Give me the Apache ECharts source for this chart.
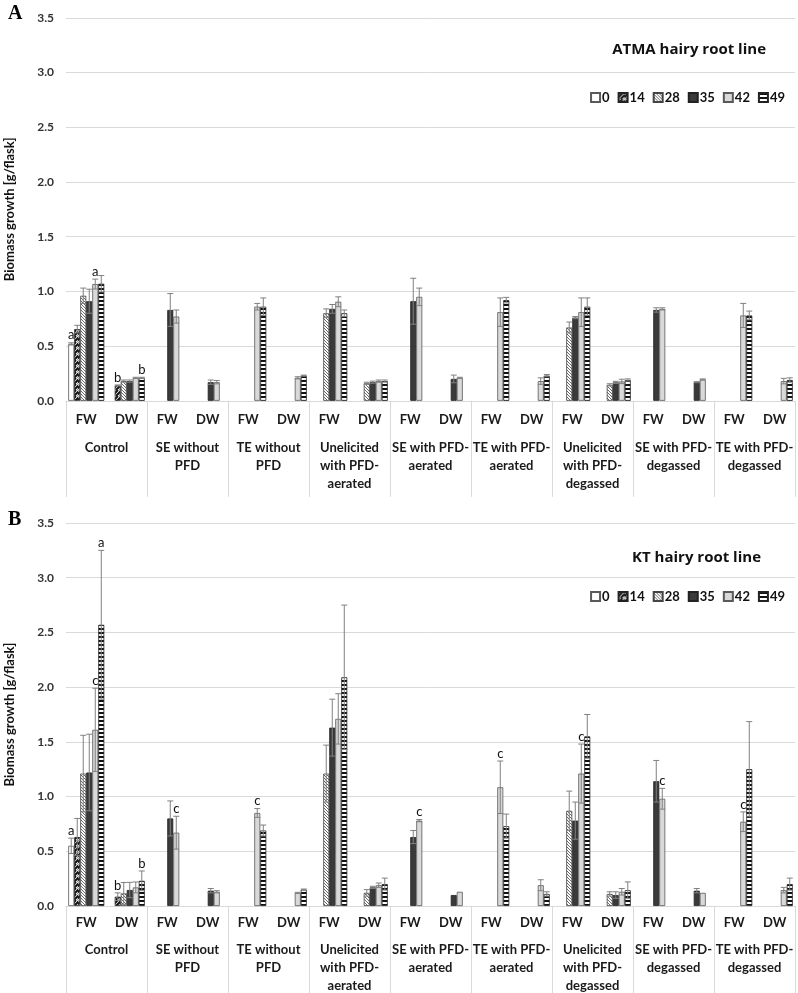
<!DOCTYPE html>
<html lang="en">
<head>
  <meta charset="UTF-8">
  <title>Biomass growth</title>
  <style type="text/css">
    html, body { margin: 0; padding: 0; background: #fff; }
    #chart { width: 798px; height: 993px; }
  </style>
</head>
<body>
  <div id="chart"></div>
  <script src="https://cdn.jsdelivr.net/npm/echarts@6/dist/echarts.min.js"></script>
  <script>
    // sub categories (FW / DW for each treatment) and treatment names
    const subCats = ['FW', 'DW', 'FW', 'DW', 'FW', 'DW', 'FW', 'DW', 'FW', 'DW', 'FW', 'DW', 'FW', 'DW', 'FW', 'DW', 'FW', 'DW']
    const groups = ['Control', 'SE without\nPFD', 'TE without\nPFD', 'Unelicited\nwith PFD-\naerated', 'SE with PFD-\naerated',
      'TE with PFD-\naerated', 'Unelicited\nwith PFD-\ndegassed', 'SE with PFD-\ndegassed', 'TE with PFD-\ndegassed']
    const days = ['0', '14', '28', '35', '42', '49']
    const yTicks = [0, 0.5, 1.0, 1.5, 2.0, 2.5, 3.0, 3.5]

    const _ = null
    // ATMA hairy root line (panel A)
    const atma0  = [0.52, _, _, _, _, _, _, _, _, _, _, _, _, _, _, _, _, _]
    const atma14 = [0.655, 0.14, _, _, _, _, _, _, _, _, _, _, _, _, _, _, _, _]
    const atma28 = [0.96, 0.18, _, _, _, _, 0.80, 0.16, _, _, _, _, 0.67, 0.146, _, _, _, _]
    const atma35 = [0.91, 0.18, 0.83, 0.17, _, _, 0.84, 0.17, 0.91, 0.20, _, _, 0.76, 0.168, 0.83, 0.17, _, _]
    const atma42 = [1.067, 0.21, 0.77, 0.17, 0.86, 0.21, 0.905, 0.18, 0.95, 0.21, 0.81, 0.18, 0.81, 0.177, 0.84, 0.195, 0.78, 0.18]
    const atma49 = [1.07, 0.21, _, _, 0.86, 0.23, 0.80, 0.18, _, _, 0.92, 0.23, 0.86, 0.19, _, _, 0.78, 0.19]

    const atmaErr0  = [0.01, _, _, _, _, _, _, _, _, _, _, _, _, _, _, _, _, _]
    const atmaErr14 = [0.035, 0.005, _, _, _, _, _, _, _, _, _, _, _, _, _, _, _, _]
    const atmaErr28 = [0.07, 0.01, _, _, _, _, 0.04, 0.01, _, _, _, _, 0.05, 0.01, _, _, _, _]
    const atmaErr35 = [0.11, 0.01, 0.15, 0.02, _, _, 0.04, 0.01, 0.21, 0.035, _, _, 0.01, 0.01, 0.02, 0.005, _, _]
    const atmaErr42 = [0.045, 0.005, 0.06, 0.015, 0.03, 0.01, 0.045, 0.01, 0.08, 0.005, 0.13, 0.03, 0.13, 0.02, 0.01, 0.005, 0.11, 0.025]
    const atmaErr49 = [0.075, 0.005, _, _, 0.08, 0.005, 0.03, 0.01, _, _, 0.025, 0.01, 0.08, 0.01, _, _, 0.04, 0.02]

    const atmaLetters = [
      { day: 0, cat: 0, text: 'a' }, { day: 4, cat: 0, text: 'a' },
      { day: 1, cat: 1, text: 'b' }, { day: 5, cat: 1, text: 'b' }
    ]

    // KT hairy root line (panel B)
    const kt0  = [0.55, _, _, _, _, _, _, _, _, _, _, _, _, _, _, _, _, _]
    const kt14 = [0.63, 0.085, _, _, _, _, _, _, _, _, _, _, _, _, _, _, _, _]
    const kt28 = [1.21, 0.115, _, _, _, _, 1.21, 0.12, _, _, _, _, 0.87, 0.11, _, _, _, _]
    const kt35 = [1.22, 0.146, 0.80, 0.14, _, _, 1.63, 0.17, 0.63, 0.10, _, _, 0.78, 0.10, 1.14, 0.14, _, _]
    const kt42 = [1.61, 0.17, 0.67, 0.13, 0.85, 0.12, 1.71, 0.19, 0.78, 0.13, 1.085, 0.19, 1.21, 0.13, 0.98, 0.12, 0.77, 0.145]
    const kt49 = [2.57, 0.23, _, _, 0.69, 0.15, 2.09, 0.20, _, _, 0.73, 0.11, 1.55, 0.145, _, _, 1.25, 0.20]

    const ktErr0  = [0.07, _, _, _, _, _, _, _, _, _, _, _, _, _, _, _, _, _]
    const ktErr14 = [0.17, 0.035, _, _, _, _, _, _, _, _, _, _, _, _, _, _, _, _]
    const ktErr28 = [0.35, 0.10, _, _, _, _, 0.26, 0.03, _, _, _, _, 0.18, 0.02, _, _, _, _]
    const ktErr35 = [0.35, 0.07, 0.16, 0.02, _, _, 0.26, 0.01, 0.06, 0, _, _, 0.17, 0.03, 0.19, 0.02, _, _]
    const ktErr42 = [0.38, 0.05, 0.15, 0.01, 0.04, 0.005, 0.23, 0.02, 0.01, 0, 0.24, 0.05, 0.27, 0.03, 0.095, 0, 0.09, 0.025]
    const ktErr49 = [0.68, 0.09, _, _, 0.05, 0.005, 0.66, 0.055, _, _, 0.11, 0.02, 0.20, 0.075, _, _, 0.435, 0.055]

    const ktLetters = [
      { day: 0, cat: 0, text: 'a' }, { day: 4, cat: 0, text: 'c' }, { day: 5, cat: 0, text: 'a' },
      { day: 1, cat: 1, text: 'b' }, { day: 5, cat: 1, text: 'b' },
      { day: 4, cat: 2, text: 'c' }, { day: 4, cat: 4, text: 'c' }, { day: 4, cat: 8, text: 'c' },
      { day: 4, cat: 10, text: 'c' }, { day: 4, cat: 12, text: 'c' }, { day: 4, cat: 14, text: 'c' },
      { day: 4, cat: 16, text: 'c' }
    ]

    const panels = [
      { title: 'ATMA hairy root line', values: [atma0, atma14, atma28, atma35, atma42, atma49],
        errs: [atmaErr0, atmaErr14, atmaErr28, atmaErr35, atmaErr42, atmaErr49], letters: atmaLetters },
      { title: 'KT hairy root line', values: [kt0, kt14, kt28, kt35, kt42, kt49],
        errs: [ktErr0, ktErr14, ktErr28, ktErr35, ktErr42, ktErr49], letters: ktLetters }
    ]

    const FONT = 'Lato, "Open Sans", sans-serif'
    const CAT_GAP = 0.11

    function pattern (draw, w, h) {
      const c = document.createElement('canvas')
      c.width = w
      c.height = h
      const ctx = c.getContext('2d')
      ctx.fillStyle = '#fff'
      ctx.fillRect(0, 0, w, h)
      draw(ctx)
      return { image: c, repeat: 'repeat' }
    }

    const fills = [
      '#ffffff',
      pattern(ctx => {
        ctx.strokeStyle = '#111'
        ctx.lineWidth = 2
        for (let i = -6; i <= 12; i += 4) {
          ctx.beginPath(); ctx.moveTo(i, 6); ctx.lineTo(i + 6, 0); ctx.stroke()
        }
      }, 6, 6),
      pattern(ctx => {
        ctx.strokeStyle = '#444'
        ctx.lineWidth = 0.8
        for (let i = -4; i <= 8; i += 3) {
          ctx.beginPath(); ctx.moveTo(i, 0); ctx.lineTo(i + 3, 3); ctx.stroke()
        }
      }, 3, 3),
      '#3a3a3a',
      '#d9d9d9',
      pattern(ctx => {
        ctx.fillStyle = '#111'
        ctx.fillRect(0, 0, 4, 2)
      }, 4, 4)
    ]
    const borders = ['#595959', '#222', '#444', '#222', '#595959', '#222']

    const grids = [
      { left: 66, right: 3, top: 17.8, height: 383, containLabel: false, outerBoundsMode: 'none' },
      { left: 66, right: 3, top: 523, height: 383, containLabel: false, outerBoundsMode: 'none' }
    ]
    const tickLens = [96, 87]
    const subMargins = [13, 10]
    const groupMargins = [38, 35]

    const option = {
      animation: false,
      textStyle: { fontFamily: FONT },
      grid: grids,
      title: panels.map((p, i) => ({
        text: p.title,
        right: i === 0 ? 27 : 32,
        top: i === 0 ? 37 : 545,
        textStyle: { fontSize: 15, fontWeight: 'bold', color: '#111', fontFamily: '"Open Sans", sans-serif' }
      })),
      legend: panels.map((p, i) => ({
        data: days,
        right: 8,
        top: i === 0 ? 86 : 585,
        itemWidth: 9,
        itemHeight: 9,
        itemGap: 8,
        icon: 'rect',
        textStyle: { fontSize: 13, fontWeight: 'bold', color: '#111', fontFamily: FONT, padding: [0, 0, 0, -3] }
      })),
      graphic: [
        { type: 'text', left: 8, top: 4, style: { text: 'A', font: 'bold 20px "Liberation Serif", serif', fill: '#000' } },
        { type: 'text', left: 8, top: 510, style: { text: 'B', font: 'bold 20px "Liberation Serif", serif', fill: '#000' } }
      ],
      xAxis: [],
      yAxis: [],
      series: []
    }

    panels.forEach((p, g) => {
      option.xAxis.push({
        type: 'category', gridIndex: g, data: subCats,
        axisLine: { lineStyle: { color: '#d9d9d9' } },
        axisTick: { show: false },
        axisLabel: { interval: 0, margin: subMargins[g], fontSize: 13, fontWeight: 'bold', color: '#1a1a1a', fontFamily: FONT }
      })
      option.xAxis.push({
        type: 'category', gridIndex: g, data: groups, position: 'bottom',
        axisLine: { show: false },
        axisTick: { show: true, length: tickLens[g], lineStyle: { color: '#d9d9d9' } },
        axisLabel: { interval: 0, margin: groupMargins[g], fontSize: 13, fontWeight: 'bold', lineHeight: 18, color: '#1a1a1a', fontFamily: FONT }
      })
      option.yAxis.push({
        type: 'value', gridIndex: g, min: yTicks[0], max: yTicks[yTicks.length - 1], interval: 0.5,
        name: 'Biomass growth [g/flask]', nameLocation: 'middle', nameGap: 50,
        nameTextStyle: { fontSize: 13, fontWeight: 'bold', color: '#111', fontFamily: FONT },
        axisLine: { show: false },
        axisTick: { show: false },
        splitLine: { lineStyle: { color: '#d9d9d9' } },
        axisLabel: { formatter: v => v.toFixed(1), margin: 12, fontSize: 12, fontWeight: 'bold', color: '#333', fontFamily: FONT }
      })

      const xIdx = g * 2
      days.forEach((d, k) => {
        option.series.push({
          type: 'bar', name: d, xAxisIndex: xIdx, yAxisIndex: g,
          data: p.values[k].map(v => (v === null ? '-' : v)),
          barGap: '0%', barCategoryGap: (CAT_GAP * 100) + '%',
          itemStyle: { color: fills[k], borderColor: borders[k], borderWidth: 0.8 }
        })
      })

      // error bars and significance letters
      const items = []
      days.forEach((d, k) => {
        p.values[k].forEach((v, c) => {
          if (v === null) return
          const e = p.errs[k][c] || 0
          const l = p.letters.find(t => t.day === k && t.cat === c)
          items.push({ value: [c, v, e, k], letter: l ? l.text : '' })
        })
      })
      option.series.push({
        type: 'custom', xAxisIndex: xIdx, yAxisIndex: g, z: 5,
        data: items.map(it => it.value),
        renderItem: (params, api) => {
          const c = api.value(0), v = api.value(1), e = api.value(2), k = api.value(3)
          const band = api.size([1, 0])[0]
          const bw = band * (1 - CAT_GAP) / 6
          const x = api.coord([c, 0])[0] + (k - 2.5) * bw
          const yTop = api.coord([c, v + e])[1]
          const yBot = api.coord([c, Math.max(v - e, 0)])[1]
          const children = []
          if (e > 0) {
            const st = { stroke: '#808080', lineWidth: 1 }
            children.push({ type: 'line', shape: { x1: x, y1: yTop, x2: x, y2: yBot }, style: st })
            children.push({ type: 'line', shape: { x1: x - 3, y1: yTop, x2: x + 3, y2: yTop }, style: st })
            children.push({ type: 'line', shape: { x1: x - 3, y1: yBot, x2: x + 3, y2: yBot }, style: st })
          }
          const letter = items[params.dataIndex].letter
          if (letter) {
            children.push({
              type: 'text', x: x, y: yTop - 1,
              style: { text: letter, fill: '#111', font: '13px ' + FONT, align: 'center', verticalAlign: 'bottom' }
            })
          }
          return { type: 'group', children }
        }
      })
    })

    const chart = echarts.init(document.getElementById('chart'))
    chart.setOption(option)
  </script>
</body>
</html>
